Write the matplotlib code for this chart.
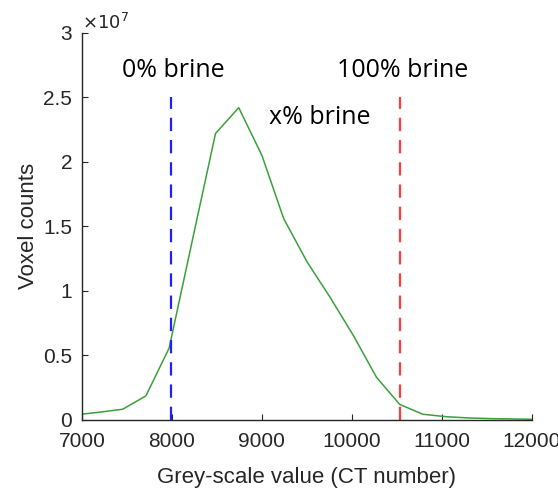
import matplotlib

matplotlib.use("Agg")
import matplotlib.pyplot as plt
from matplotlib.ticker import FuncFormatter

# Histogram of CT grey-scale values (bin centres) and voxel counts
grey_values = [7000, 7195, 7452, 7710, 7968, 8226, 8484, 8742, 9000, 9242,
               9500, 9758, 10016, 10274, 10532, 10790, 11048, 11306, 11564,
               11822, 12000]
voxel_counts = [0.045e7, 0.06e7, 0.083e7, 0.186e7, 0.556e7, 1.39e7, 2.22e7,
                2.42e7, 2.05e7, 1.56e7, 1.227e7, 0.95e7, 0.655e7, 0.33e7,
                0.12e7, 0.044e7, 0.025e7, 0.015e7, 0.01e7, 0.007e7, 0.005e7]

dry_ct = 7990      # 0% brine reference
brine_ct = 10533   # 100% brine reference
marker_top = 2.5e7

x_ticks = [7000, 8000, 9000, 10000, 11000, 12000]
y_ticks = [0, 0.5e7, 1e7, 1.5e7, 2e7, 2.5e7, 3e7]
y_scale = 1e7

plt.rcParams["font.family"] = ["Liberation Sans", "DejaVu Sans"]

fig = plt.figure(figsize=(5.58, 4.9), dpi=100)
ax = fig.add_axes([0.147, 0.143, 0.806, 0.79])

ax.plot(grey_values, voxel_counts, color="#3c9f3c", linewidth=1.1)
ax.vlines(dry_ct, 0, marker_top, colors="#2020ff", linestyles=(0, (6, 4)), linewidth=1.6)
ax.vlines(brine_ct, 0, marker_top, colors="#ff3b3b", linestyles=(0, (6, 4)), linewidth=1.6)

annot = dict(fontsize=18, family=["Open Sans", "DejaVu Sans"], ha="center", va="center")
ax.text(8010, 2.71e7, "0% brine", **annot)
ax.text(10560, 2.71e7, "100% brine", **annot)
ax.text(9645, 2.34e7, "x% brine", **annot)

ax.set_xlim(7000, 12000)
ax.set_ylim(0, 3e7)
ax.set_xticks(x_ticks)
ax.set_yticks(y_ticks)
ax.yaxis.set_major_formatter(FuncFormatter(lambda v, _: f"{v / y_scale:g}"))
ax.text(0.0, 1.0, r"$\times10^{7}$", transform=ax.transAxes, ha="left", va="bottom",
        fontsize=13, color="#262626")

for side in ("top", "right"):
    ax.spines[side].set_visible(False)
for side in ("left", "bottom"):
    ax.spines[side].set_color("#262626")
    ax.spines[side].set_linewidth(1.0)
ax.tick_params(direction="in", length=4, labelsize=15, colors="#262626",
               labelcolor="#262626")
ax.tick_params(axis="x", pad=9)
ax.tick_params(axis="y", pad=7)

ax.set_xlabel("Grey-scale value (CT number)", fontsize=16, color="#262626", labelpad=11)
ax.set_ylabel("Voxel counts", fontsize=16, color="#262626", labelpad=3)

fig.savefig("out.png", dpi=100)
